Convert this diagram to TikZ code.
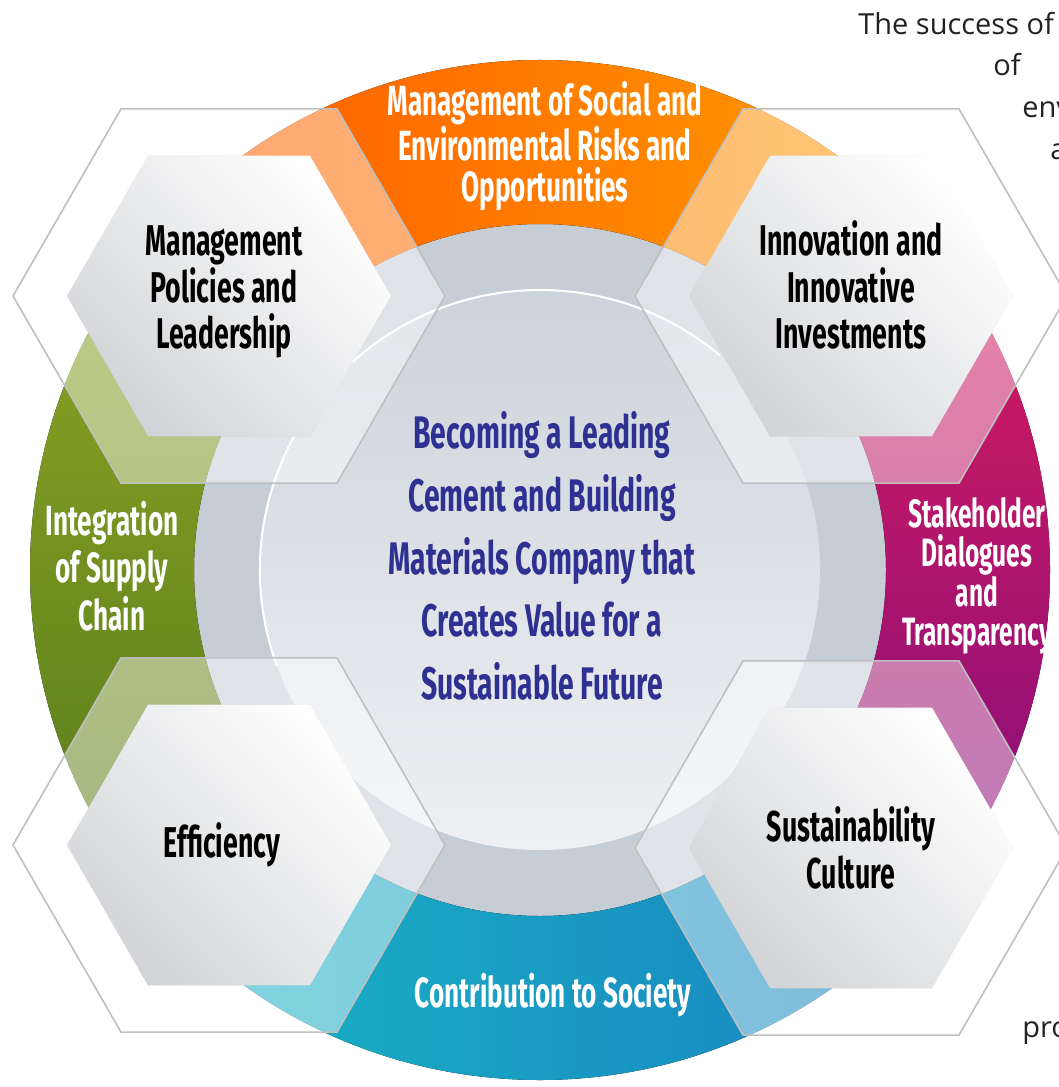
\documentclass[tikz,border=0pt]{standalone}
\usepackage{fontspec}
\setmainfont{Open Sans}
\newfontfamily\labelfont[FakeStretch=0.62]{Fira Sans}
\usepackage{tikz}
\usetikzlibrary{calc}

\definecolor{ringgray}{HTML}{C7CDD5}
\definecolor{diskTop}{HTML}{CDD3DA}
\definecolor{diskBot}{HTML}{EEF0F3}
\definecolor{orangeL}{HTML}{FF5B00}
\definecolor{orangeR}{HTML}{FF9C00}
\definecolor{purpT}{HTML}{DE1D5C}
\definecolor{purpB}{HTML}{7E0C7E}
\definecolor{blueL}{HTML}{18B4C4}
\definecolor{blueR}{HTML}{1A83C1}
\definecolor{greenT}{HTML}{8DA724}
\definecolor{greenB}{HTML}{567A1C}
\definecolor{visionblue}{HTML}{2E3192}
\definecolor{hexgray}{HTML}{D2D4D7}
\definecolor{sidegray}{HTML}{222222}

% flat-top hexagon round a centre, #2 = circumradius in px
\newcommand{\hexat}[2]{($(#1)+(0:#2)$) -- ++(120:#2) -- ++(180:#2) -- ++(240:#2) -- ++(300:#2) -- ++(0:#2) -- cycle}

\tikzset{
    segtop/.style={left color=orangeL,right color=orangeR},
    segright/.style={top color=purpT,bottom color=purpB},
    segbottom/.style={left color=blueL,right color=blueR},
    segleft/.style={top color=greenT,bottom color=greenB},
    outerhex/.style={fill=white,fill opacity=0.45,draw=gray!50,draw opacity=1,line width=0.9pt},
    hexshadow/.style={fill=black,fill opacity=0.08},
    innerhex/.style={top color=white,middle color=white!92!hexgray,bottom color=hexgray,shading angle=-45},
    hexlabel/.style={font=\labelfont\bfseries\fontsize{24.5}{26.6}\selectfont,text=black,align=center},
    ringlabel/.style={font=\labelfont\bfseries\fontsize{24}{23.2}\selectfont,text=white,align=center},
    visionlabel/.style={font=\labelfont\bfseries\fontsize{26}{35.7}\selectfont,text=visionblue,align=center},
    sidetext/.style={font=\fontsize{16.5}{20}\selectfont,text=sidegray,anchor=base west,inner sep=0pt}
}

\begin{document}
\begin{tikzpicture}[x=0.02cm,y=-0.02cm]
  \useasboundingbox (0,0) rectangle (1058,1087);
  \fill[white] (0,0) rectangle (1058,1087);

  \coordinate (C)  at (540,570);
  \coordinate (H1) at (229,296);
  \coordinate (H2) at (851,296);
  \coordinate (H3) at (229,845);
  \coordinate (H4) at (851,848);

  % ring: grey band, then four coloured quarters
  \fill[ringgray] (C) circle (348);
  \foreach \a/\st in {225/segtop,315/segright,45/segbottom,135/segleft}{
    \fill[\st] ($(C)+(\a:510)$) arc[start angle=\a,delta angle=90,radius=510]
      -- ($(C)+(\a+90:346)$) arc[start angle=\a+90,delta angle=-90,radius=346] -- cycle;
  }

  % inner disc
  \shade[top color=diskTop,bottom color=diskBot] (C) circle (280);
  \draw[white,line width=1.2pt] ($(C)+(160:280)$) arc[start angle=160,delta angle=150,radius=280];

  % hexagons
  \foreach \h in {H1,H2,H3,H4}{
    \path[outerhex] \hexat{\h}{216};
    \fill[hexshadow,shift={(7,9)}] \hexat{\h}{162};
    \shade[innerhex] \hexat{\h}{162};
  }

  % hexagon labels
  \node[hexlabel] (policies)   at (224,292) {Management\\Policies and\\Leadership};
  \node[hexlabel] (innovation) at (851,285) {Innovation and\\Innovative\\Investments};
  \node[hexlabel] (efficiency) at (222,845) {Efficiency};
  \node[hexlabel] (culture)    at (851,848) {Sustainability\\Culture};

  % ring labels
  \node[ringlabel] (risks)    at (545,146) {Management of Social and\\Environmental Risks and\\Opportunities};
  \node[ringlabel,font=\labelfont\bfseries\fontsize{24}{27}\selectfont] (supply) at (112,566) {Integration\\of Supply\\Chain};
  \node[ringlabel,font=\labelfont\bfseries\fontsize{22.5}{22}\selectfont] (dialogue) at (977,576) {Stakeholder\\Dialogues\\and\\Transparency};
  \node[ringlabel] (society)  at (553,995) {Contribution to Society};

  % centre
  \node[visionlabel] (vision) at (542,556) {Becoming a Leading\\Cement and Building\\Materials Company that\\Creates Value for a\\Sustainable Future};

  % text running in from the next column
  \node[sidetext] (side1) at (858,35)   {The success of};
  \node[sidetext] (side2) at (993,76)   {of};
  \node[sidetext] (side3) at (1022,118) {env};
  \node[sidetext] (side4) at (1050,160) {a};
  \node[sidetext] (side5) at (1022,1037) {pro};
\end{tikzpicture}
\end{document}
